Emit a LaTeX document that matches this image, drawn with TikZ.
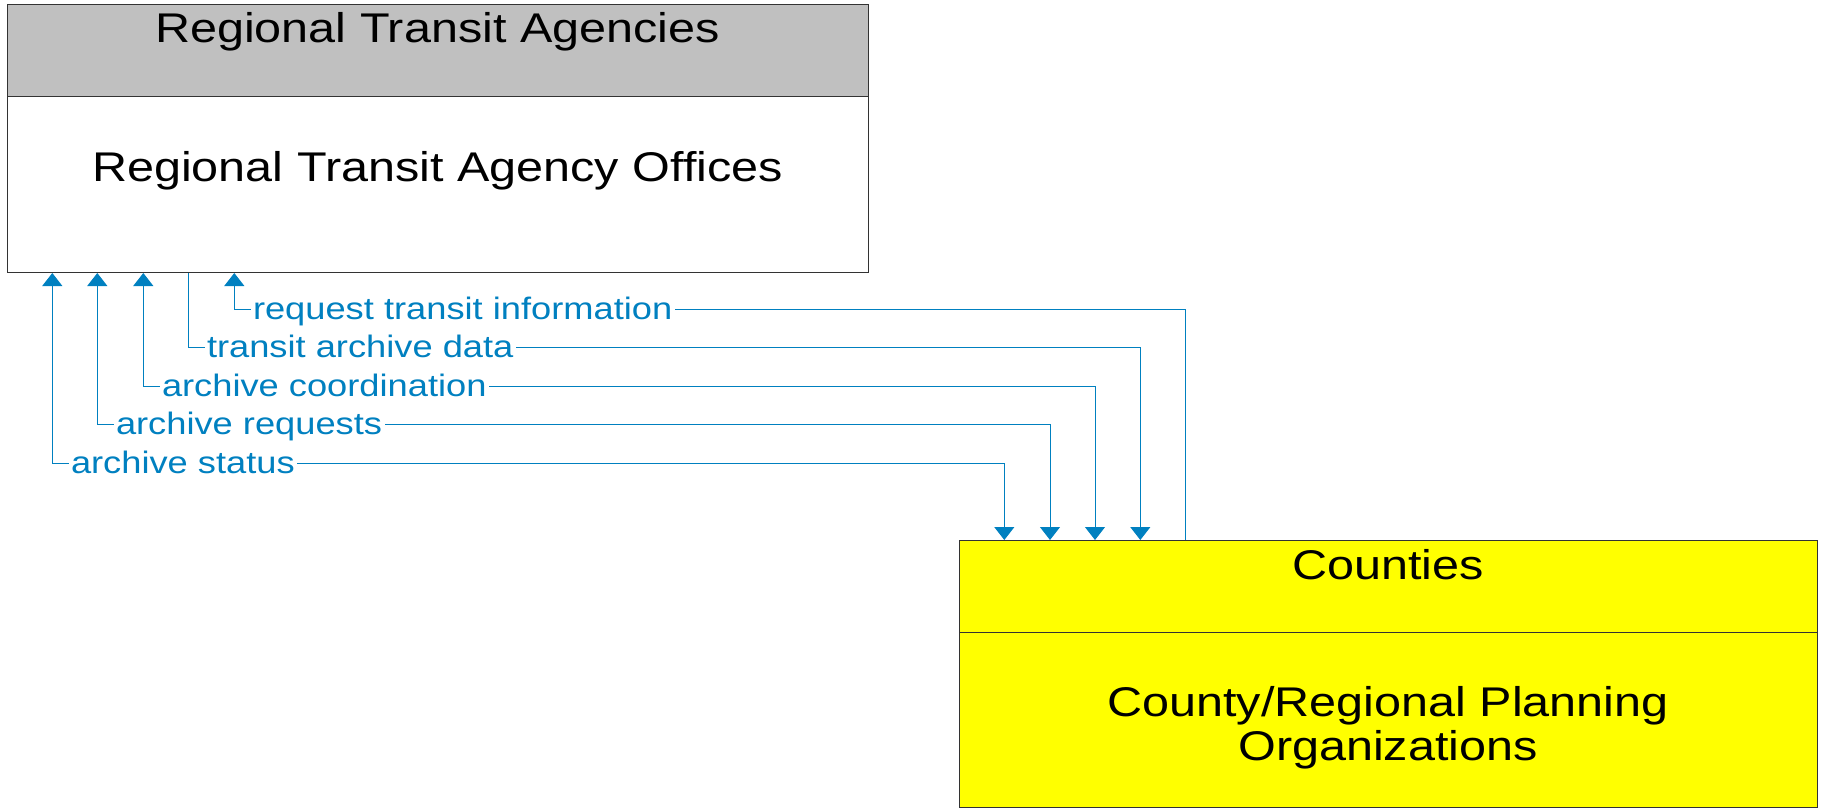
\documentclass[tikz,border=0pt]{standalone}
\usepackage{fontspec}
\setmainfont{Liberation Sans}[FakeStretch=1.17]
\usepackage{tikz}
\usetikzlibrary{positioning, arrows.meta}
\definecolor{flowblue}{RGB}{0,128,192}
\definecolor{hdrgray}{RGB}{192,192,192}
\definecolor{cntyyellow}{RGB}{255,255,0}

\begin{document}
\begin{tikzpicture}[x=1pt, y=-1pt,
        every node/.style={font=\fontsize{41.5}{44.7}\selectfont},
        box/.style={draw=black!80, line width=1pt, anchor=north west, inner sep=0pt},
        boxtxt/.style={anchor=base, align=center, inner sep=0pt},
        flow/.style={draw=flowblue, line width=1pt},
        arrend/.style={-{Triangle[length=13pt, width=20pt]}},
        arrboth/.style={{Triangle[length=13pt, width=20pt]}-{Triangle[length=13pt, width=20pt]}},
        flowlbl/.style={font=\fontsize{31}{33}\selectfont, text=flowblue, fill=white,
          anchor=base west, inner xsep=2.5pt, inner ysep=1pt}]
      \useasboundingbox (0,0) rectangle (1825,808);

      % boxes
      \node[box, fill=hdrgray, minimum width=861pt, minimum height=92pt] (rtahdr) at (7,4) {};
      \node[box, fill=white, minimum width=861pt, minimum height=176pt] (rta) at (7,96) {};
      \node[box, fill=cntyyellow, minimum width=858pt, minimum height=92pt] (cntyhdr) at (959,540) {};
      \node[box, fill=cntyyellow, minimum width=858pt, minimum height=175pt] (cnty) at (959,632) {};

      \node[boxtxt] (rtahdrtxt) at (437.5,42.3) {Regional Transit Agencies};
      \node[boxtxt] (rtatxt) at (437.5,181) {Regional Transit Agency Offices};
      \node[boxtxt] (cntyhdrtxt) at (1388,579) {Counties};
      \node[boxtxt] (cntytxt) at (1388,760.7) {County/Regional Planning\\Organizations};

      % corners of the flows
      \coordinate (a5) at (234.3,309);   \coordinate (c5) at (1185.7,309);
      \coordinate (a4) at (188.3,347.5); \coordinate (c4) at (1140.3,347.5);
      \coordinate (a3) at (143.3,386);   \coordinate (c3) at (1095,386);
      \coordinate (a2) at (97.3,424.5);  \coordinate (c2) at (1050,424.5);
      \coordinate (a1) at (52.3,463);    \coordinate (c1) at (1004.3,463);

      \draw[flow, arrend] (cntyhdr.north -| c5) -- (c5) -- (a5) -- (rta.south -| a5);
      \draw[flow, arrend] (rta.south -| a4) -- (a4) -- (c4) -- (cntyhdr.north -| c4);
      \draw[flow, arrboth] (rta.south -| a3) -- (a3) -- (c3) -- (cntyhdr.north -| c3);
      \draw[flow, arrboth] (rta.south -| a2) -- (a2) -- (c2) -- (cntyhdr.north -| c2);
      \draw[flow, arrboth] (rta.south -| a1) -- (a1) -- (c1) -- (cntyhdr.north -| c1);

      \node[flowlbl] (lreqinfo) at ([xshift=16pt, yshift=-10.3pt]a5) {request transit information};
      \node[flowlbl] (ltadata) at ([xshift=16pt, yshift=-10.3pt]a4) {transit archive data};
      \node[flowlbl] (lcoord) at ([xshift=16pt, yshift=-10.3pt]a3) {archive coordination};
      \node[flowlbl] (lreq) at ([xshift=16pt, yshift=-10.3pt]a2) {archive requests};
      \node[flowlbl] (lstat) at ([xshift=16pt, yshift=-10.3pt]a1) {archive status};
    \end{tikzpicture}
\end{document}
